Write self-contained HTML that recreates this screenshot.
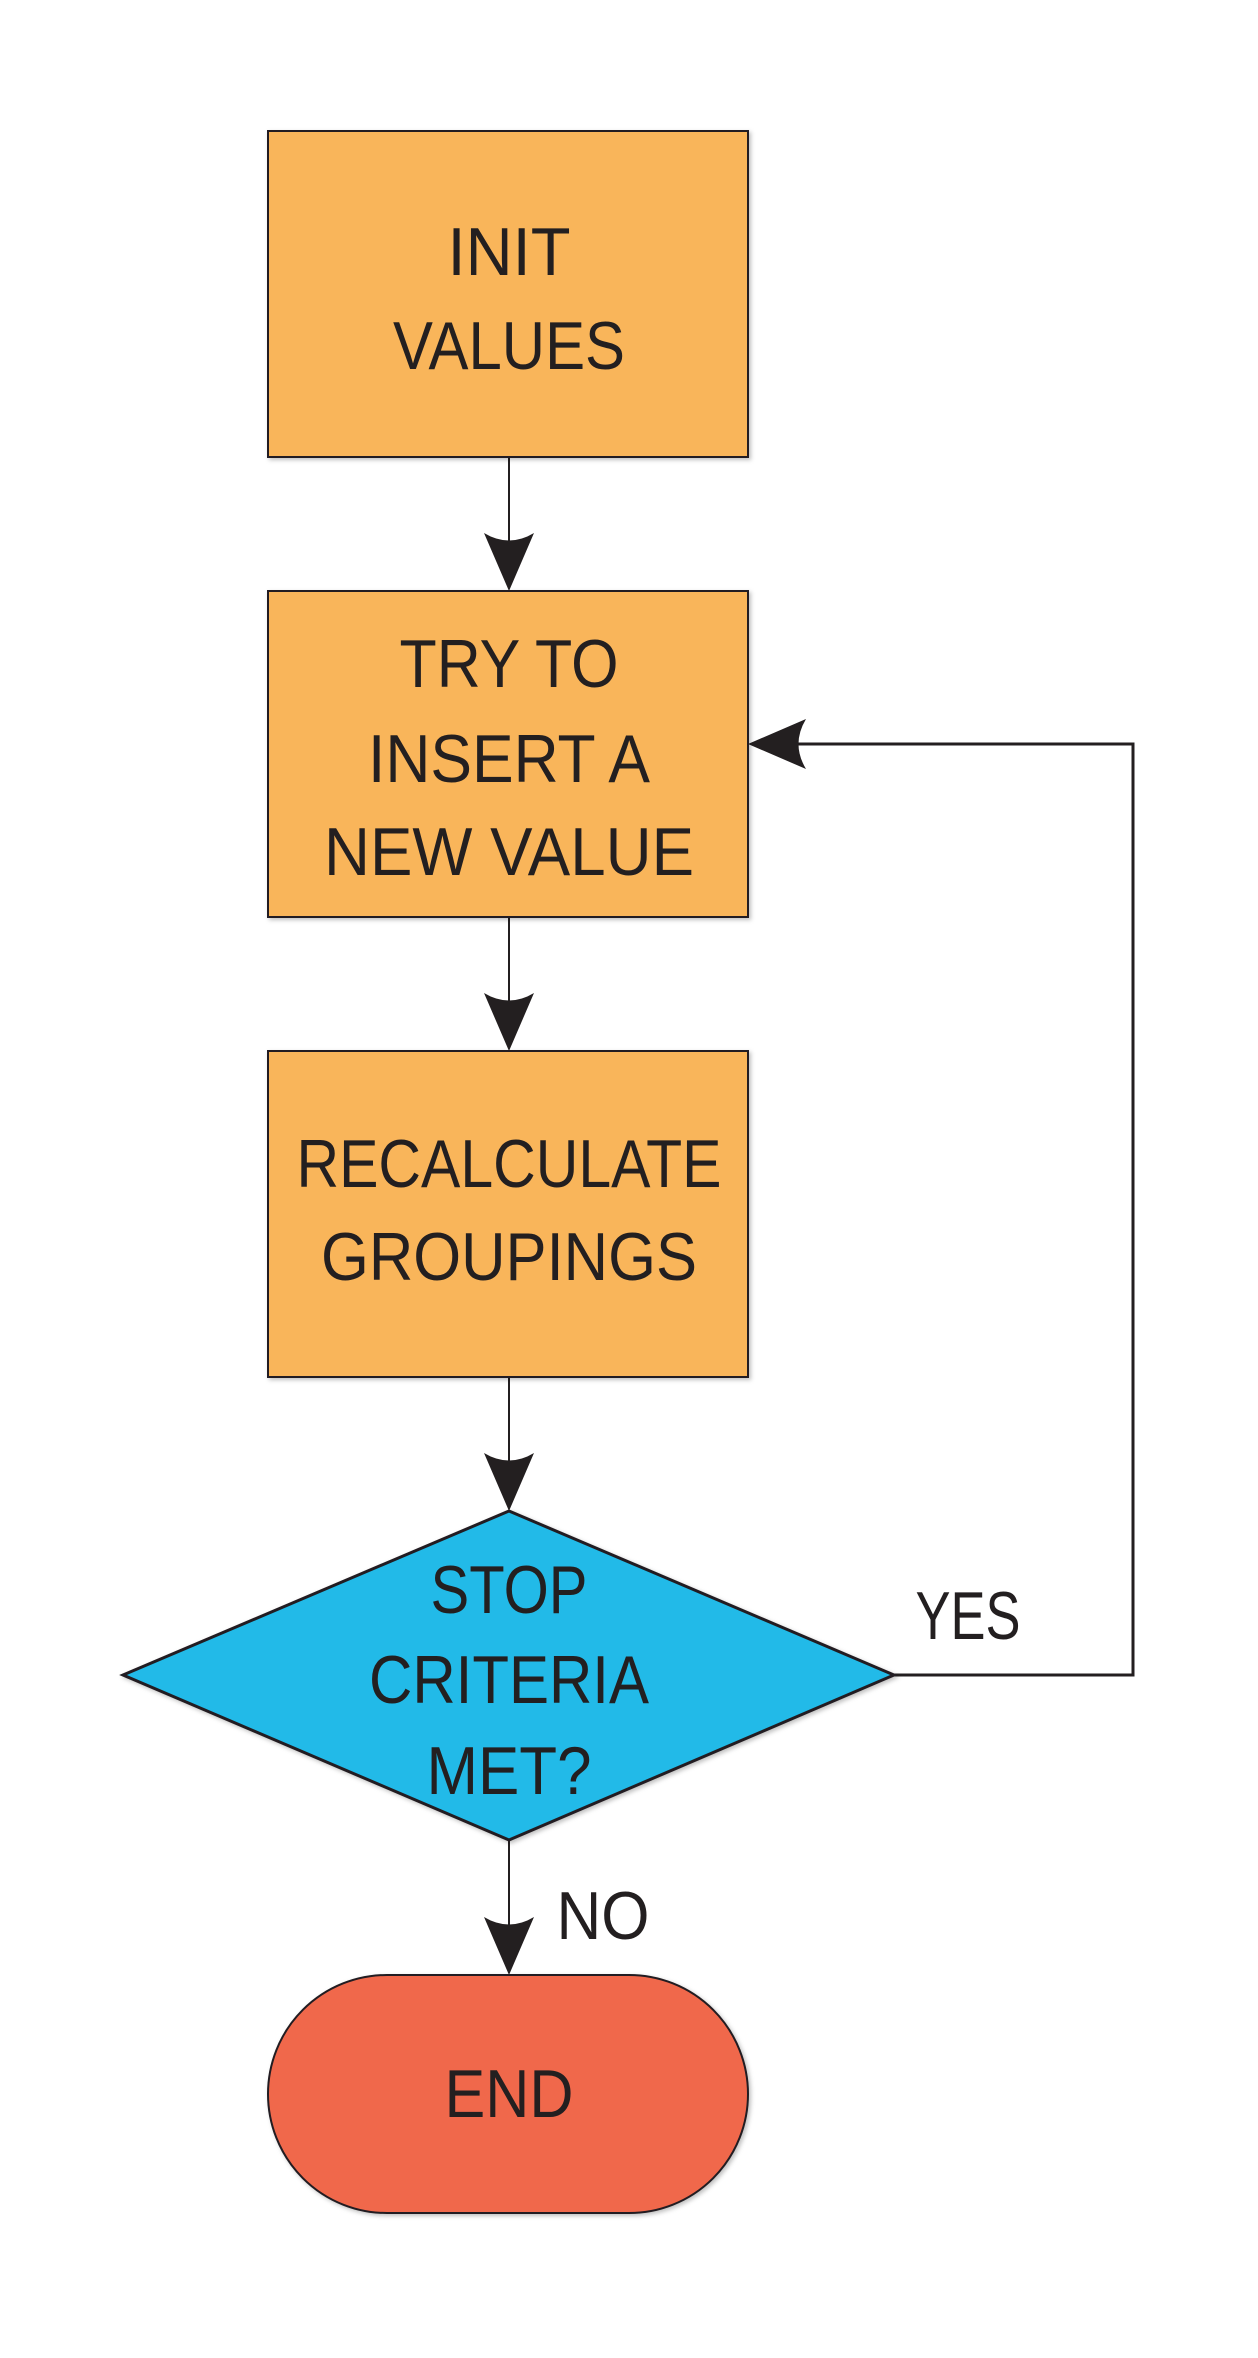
<!DOCTYPE html>
<html><head><meta charset="utf-8"><style>html,body{margin:0;padding:0;background:#fff}svg{display:block}</style></head>
<body>
<svg width="1258" height="2358" viewBox="0 0 1258 2358" xmlns="http://www.w3.org/2000/svg">
<defs>
<filter id="sh" x="-5%" y="-5%" width="110%" height="110%"><feDropShadow dx="2" dy="2" stdDeviation="2" flood-color="#000" flood-opacity="0.25"/></filter>
</defs>
<g transform="translate(0,3)">
<g stroke="#231f20" stroke-width="2" fill="none">
<line x1="509" y1="454" x2="509" y2="540"/>
<line x1="509" y1="914" x2="509" y2="1000"/>
<line x1="509" y1="1374" x2="509" y2="1460"/>
<line x1="509" y1="1837" x2="509" y2="1925"/>
<polyline points="894,1672 1133,1672 1133,741 790,741" stroke-width="3"/>
</g>
<g fill="#231f20">
<path d="M484,530 Q509,545 534,530 L509,588 Z"/>
<path d="M484,990 Q509,1005 534,990 L509,1048 Z"/>
<path d="M484,1450 Q509,1465 534,1450 L509,1508 Z"/>
<path d="M484,1914 Q509,1929 534,1914 L509,1972 Z"/>
<path d="M806,716 Q791,741 806,766 L748,741 Z"/>
</g>
<g stroke="#231f20" stroke-width="2" filter="url(#sh)">
<rect x="268" y="128" width="480" height="326" fill="#f9b55a"/>
<rect x="268" y="588" width="480" height="326" fill="#f9b55a"/>
<rect x="268" y="1048" width="480" height="326" fill="#f9b55a"/>
<polygon points="123,1672 509,1508 894,1672 509,1837" fill="#20bae8" stroke-width="3"/>
<rect x="268" y="1972" width="480" height="238" rx="119" fill="#f0674b"/>
</g>
<g font-family="Liberation Sans, sans-serif" font-size="68" fill="#231f20" text-anchor="middle">
<text x="509" y="272" textLength="123" lengthAdjust="spacingAndGlyphs">INIT</text>
<text x="509" y="366" textLength="232" lengthAdjust="spacingAndGlyphs">VALUES</text>
<text x="509" y="684" textLength="219" lengthAdjust="spacingAndGlyphs">TRY TO</text>
<text x="509" y="779" textLength="282" lengthAdjust="spacingAndGlyphs">INSERT A</text>
<text x="509" y="872" textLength="370" lengthAdjust="spacingAndGlyphs">NEW VALUE</text>
<text x="509" y="1184" textLength="425" lengthAdjust="spacingAndGlyphs">RECALCULATE</text>
<text x="509" y="1277" textLength="376" lengthAdjust="spacingAndGlyphs">GROUPINGS</text>
<text x="509" y="1610" textLength="157" lengthAdjust="spacingAndGlyphs">STOP</text>
<text x="509" y="1700" textLength="280" lengthAdjust="spacingAndGlyphs">CRITERIA</text>
<text x="509" y="1791" textLength="165" lengthAdjust="spacingAndGlyphs">MET?</text>
<text x="968" y="1636" textLength="105" lengthAdjust="spacingAndGlyphs">YES</text>
<text x="603" y="1936" textLength="93" lengthAdjust="spacingAndGlyphs">NO</text>
<text x="509" y="2114" textLength="129" lengthAdjust="spacingAndGlyphs">END</text>
</g>
</g>
</svg>
</body></html>
